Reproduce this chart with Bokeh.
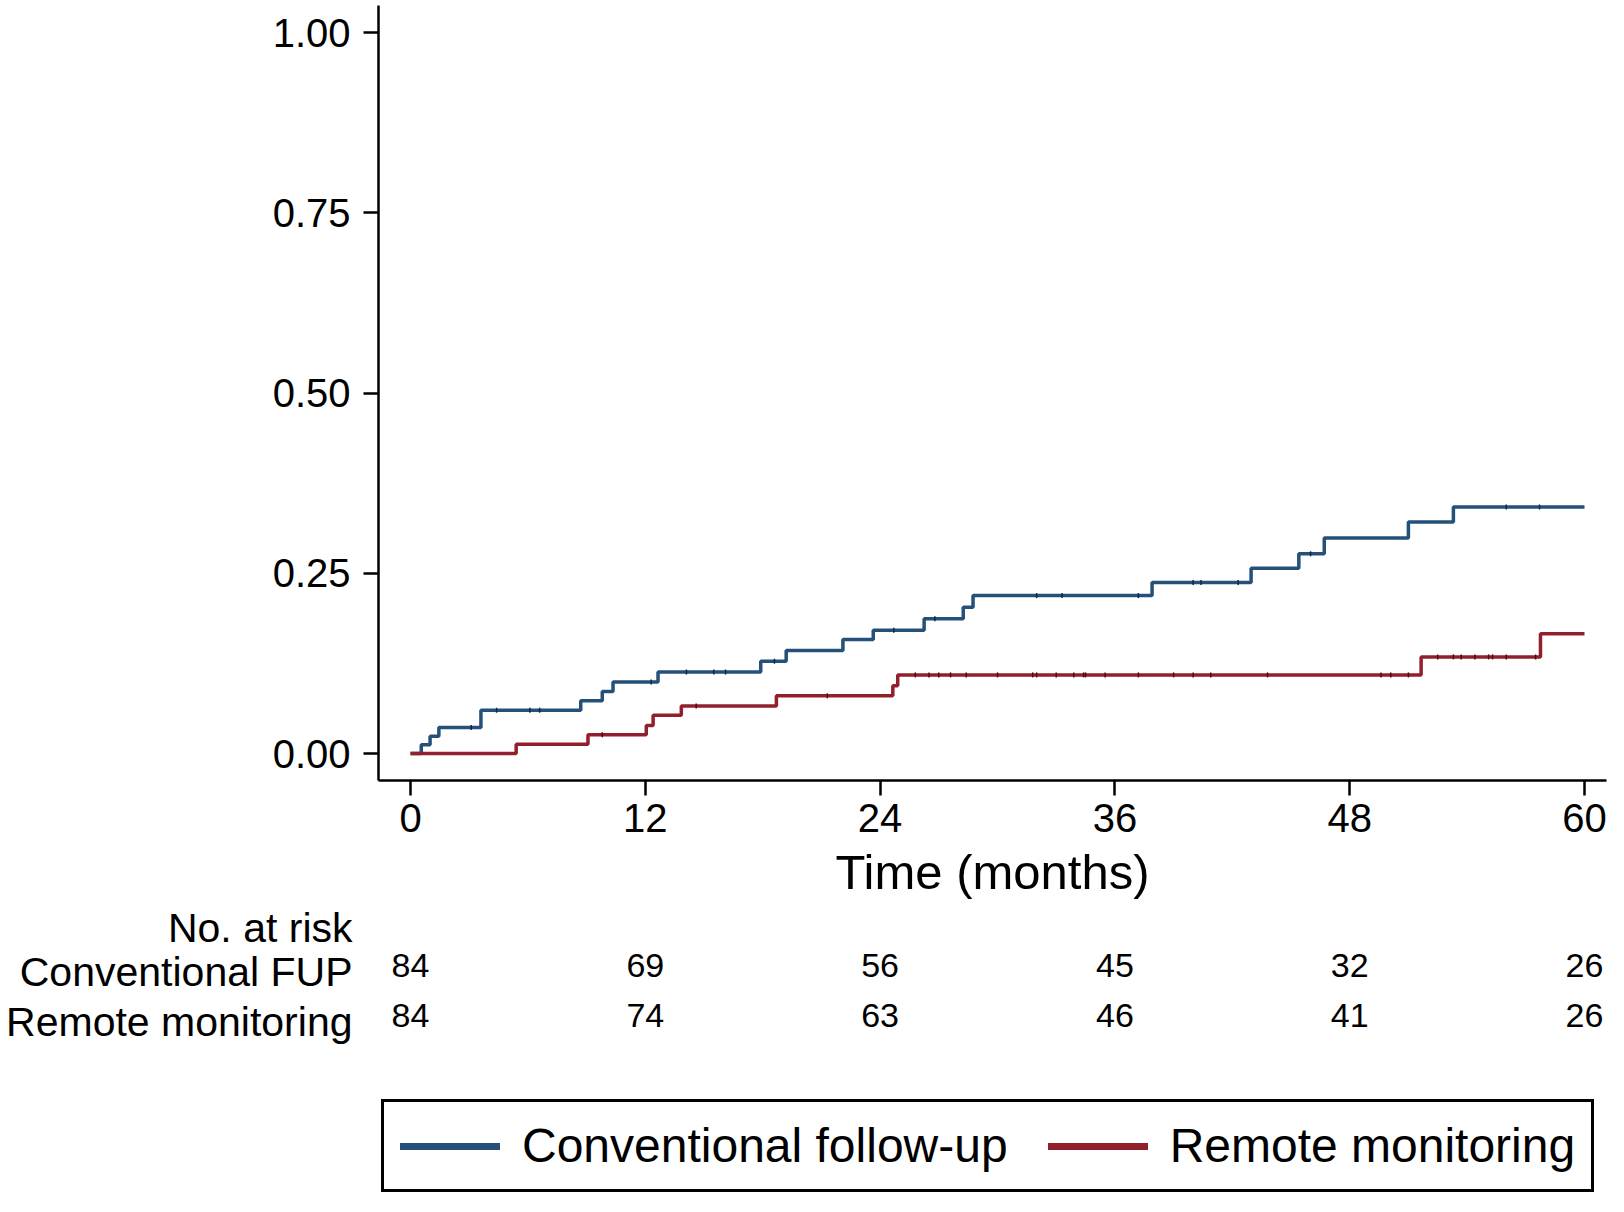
import numpy as np
from bokeh.plotting import figure
from bokeh.layouts import column
from bokeh.models import Range1d, FixedTicker, Legend, LegendItem
from bokeh.embed import file_html
from bokeh.resources import INLINE
from bokeh.core.properties import value

# ---------------- data ----------------
conv_t = [0, 0.55, 1.0, 1.45, 3.6, 8.7, 9.8, 10.35, 12.65, 17.9, 19.2, 22.1, 23.65,
          26.25, 28.25, 28.75, 37.9, 42.96, 45.4, 46.7, 51.0, 53.3, 60]
conv_v = [0, 0.012, 0.024, 0.036, 0.060, 0.073, 0.086, 0.099, 0.113, 0.128, 0.143, 0.158, 0.171,
          0.187, 0.203, 0.219, 0.237, 0.257, 0.277, 0.299, 0.321, 0.342, 0.342]
rem_t = [0, 5.4, 9.07, 12.05, 12.4, 13.84, 18.7, 24.65, 24.9, 51.65, 57.75, 60]
rem_v = [0, 0.013, 0.026, 0.039, 0.053, 0.066, 0.080, 0.094, 0.109, 0.134, 0.166, 0.166]

conv_censor = [3.1, 4.4, 6.1, 6.6, 12.3, 14.1, 15.5, 16.1, 18.6, 24.7, 26.8, 32.0, 33.3,
               37.2, 40.0, 40.4, 42.3, 46.0, 56.0, 57.7]
rem_censor = [9.8, 14.6, 21.3, 25.8, 26.5, 27.0, 27.6, 28.4, 30.0, 31.8, 32.0, 33.0, 33.9,
              34.4, 34.5, 35.5, 37.2, 39.0, 40.0, 40.9, 43.8, 49.6, 50.1, 51.0, 52.5, 53.3,
              53.7, 54.4, 55.1, 55.3, 56.0, 57.5]

risk_times = [0, 12, 24, 36, 48, 60]
conv_risk = [84, 69, 56, 45, 32, 26]
rem_risk = [84, 74, 63, 46, 41, 26]

x_ticks = [0, 12, 24, 36, 48, 60]
y_ticks = [0, 0.25, 0.5, 0.75, 1.0]
y_tick_labels = ["0.00", "0.25", "0.50", "0.75", "1.00"]

series_names = ["Conventional follow-up", "Remote monitoring"]
row_labels = ["No. at risk", "Conventional FUP", "Remote monitoring"]

BLUE = "#24507a"
RED = "#92202c"
FONT = "Liberation Sans"

# ---------------- layout constants (screen px) ----------------
W = 1608
H_TOTAL = 1196
H1 = 904                 # main plot height
H2 = 174                 # at-risk table
H3 = H_TOTAL - H1 - H2   # legend strip
FRAME_LEFT = 378
FRAME_RIGHT = 1606
FRAME_TOP = 5
FRAME_BOTTOM = 780
X0_PX = 410.0            # screen x of t = 0
X60_PX = 1584.0          # screen x of t = 60
Y0_PX = 753.0            # screen y of 0.00
Y1_PX = 32.0             # screen y of 1.00

pxm = (X60_PX - X0_PX) / 60.0
pxy = (Y0_PX - Y1_PX)
x_start = -(X0_PX - FRAME_LEFT) / pxm
x_end = 60 + (FRAME_RIGHT - X60_PX) / pxm
y_start = -(FRAME_BOTTOM - Y0_PX) / pxy
y_end = 1 + (Y1_PX - FRAME_TOP) / pxy

# ---------------- main figure ----------------
p = figure(width=W, height=H1, output_backend="svg", toolbar_location=None,
           x_range=Range1d(x_start, x_end), y_range=Range1d(y_start, y_end),
           min_border_left=FRAME_LEFT, min_border_right=W - FRAME_RIGHT,
           min_border_top=FRAME_TOP, min_border_bottom=H1 - FRAME_BOTTOM)
p.outline_line_color = None
p.grid.visible = False

for ax in (p.xaxis[0], p.yaxis[0]):
    ax.axis_line_color = "black"
    ax.axis_line_width = 2.5
    ax.major_tick_line_color = "black"
    ax.major_tick_line_width = 2.5
    ax.major_tick_out = 15
    ax.major_tick_in = 0
    ax.minor_tick_line_color = None
    ax.major_label_text_font = FONT
    ax.major_label_text_font_size = "40px"
    ax.major_label_text_color = "black"

p.yaxis.major_label_standoff = 13
p.xaxis.major_label_standoff = 8
p.xaxis.ticker = FixedTicker(ticks=x_ticks)
p.yaxis.ticker = FixedTicker(ticks=y_ticks)
p.yaxis.major_label_overrides = {t: l for t, l in zip(y_ticks, y_tick_labels)}
p.xaxis.axis_label = "Time (months)"
p.xaxis.axis_label_text_font = FONT
p.xaxis.axis_label_text_font_size = "49px"
p.xaxis.axis_label_text_font_style = "normal"
p.xaxis.axis_label_text_color = "black"
p.xaxis.axis_label_standoff = 10

p.step(conv_t, conv_v, mode="after", line_width=3.5, line_color=BLUE)
p.step(rem_t, rem_v, mode="after", line_width=3.5, line_color=RED)


def censor_y(times, vals, cs):
    t = np.asarray(times)
    v = np.asarray(vals)
    idx = np.searchsorted(t, np.asarray(cs), side="right") - 1
    return v[idx]


p.scatter(conv_censor, censor_y(conv_t, conv_v, conv_censor), marker="dash", angle=np.pi / 2,
          size=5, line_width=1.5, line_color="#10283f")
p.scatter(rem_censor, censor_y(rem_t, rem_v, rem_censor), marker="dash", angle=np.pi / 2,
          size=5, line_width=1.5, line_color="#4a0c12")

# ---------------- at-risk table ----------------
row_y = [14, 67.5, 117]             # local px from top of this strip
num_y = [61, 111]

q = figure(width=W, height=H2, output_backend="svg", toolbar_location=None,
           x_range=p.x_range, y_range=Range1d(H2, 0),
           x_axis_location=None,
           min_border_left=FRAME_LEFT, min_border_right=W - FRAME_RIGHT,
           min_border_top=0, min_border_bottom=0)
q.grid.visible = False
q.outline_line_color = None
yax = q.yaxis[0]
yax.ticker = FixedTicker(ticks=row_y)
yax.major_label_overrides = {float(yv): lab for yv, lab in zip(row_y, row_labels)}
yax.axis_line_color = None
yax.major_tick_line_color = None
yax.minor_tick_line_color = None
yax.major_tick_out = 0
yax.major_label_standoff = 26
yax.major_label_text_font = FONT
yax.major_label_text_font_size = "41px"
yax.major_label_text_color = "black"

for counts, yy in zip([conv_risk, rem_risk], num_y):
    q.text(x=risk_times, y=[yy] * len(risk_times), text=[str(c) for c in counts],
           text_align="center", text_baseline="middle", text_font=value(FONT),
           text_font_size="34px", text_color="black")

# ---------------- legend strip ----------------
r = figure(width=W, height=H3, output_backend="svg", toolbar_location=None,
           x_range=p.x_range, y_range=Range1d(0, 1),
           x_axis_location=None, y_axis_location=None,
           min_border_left=FRAME_LEFT, min_border_right=W - FRAME_RIGHT,
           min_border_top=0, min_border_bottom=0)
r.grid.visible = False
r.outline_line_color = None

lg_blue = r.line(x=[risk_times[0]], y=[np.nan], line_width=7, line_color=BLUE, line_cap="round")
lg_red = r.line(x=[risk_times[0]], y=[np.nan], line_width=7, line_color=RED, line_cap="round")
legend = Legend(items=[LegendItem(label=series_names[0], renderers=[lg_blue]),
                       LegendItem(label=series_names[1], renderers=[lg_red])],
                orientation="horizontal", location=(3, 4),
                glyph_width=100, glyph_height=20, label_standoff=22, spacing=40,
                padding=16, margin=0,
                label_text_font=FONT, label_text_font_size="48px", label_text_color="black",
                border_line_color="black", border_line_width=3, border_line_alpha=1.0,
                background_fill_color="white", background_fill_alpha=1.0)
r.add_layout(legend, "center")

layout = column(p, q, r, spacing=0)
open("out.html", "w").write(file_html(layout, INLINE))
